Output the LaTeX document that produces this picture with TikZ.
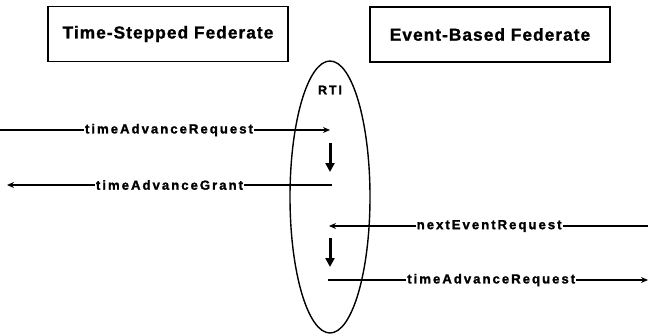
\documentclass[tikz,border=0pt]{standalone}
\usepackage{fontspec}
\setmainfont{Liberation Sans}
\newfontfamily\titlefont[LetterSpace=6,FakeBold=1.2]{Liberation Sans}
\newfontfamily\msgfont[LetterSpace=15,FakeBold=1.4]{Liberation Sans}
\usetikzlibrary{shapes.geometric,arrows.meta}
\tikzset{
  fedbox/.style={draw, line width=1.8pt, minimum width=240pt, minimum height=55pt,
    inner sep=0pt, font=\titlefont\bfseries\fontsize{17.3}{17.3}\selectfont},
  rtishape/.style={draw, ellipse, line width=1.4pt, minimum width=80pt,
    minimum height=272pt, inner sep=0pt},
  msg/.style={line width=1.6pt, -{Stealth[length=7pt,width=6pt]}},
  msgheavy/.style={line width=2.2pt, -{Stealth[length=7pt,width=6pt]}},
  msglabel/.style={fill=white, inner xsep=1pt, inner ysep=1pt,
    font=\msgfont\bfseries\fontsize{13.2}{13.2}\selectfont},
  stepdown/.style={line width=3pt, -{Triangle[length=9pt,width=9pt]}}
}
\begin{document}
\begin{tikzpicture}[x=1pt, y=-1pt]
  \useasboundingbox (0,0) rectangle (648,335);

  % the two federates
  \node[fedbox] (tsf) at (168,34) {Time-Stepped Federate};
  \node[fedbox] (ebf) at (490,34.5) {Event-Based Federate};

  % the run-time infrastructure
  \node[rtishape] (rti) at (330,197) {};
  \node[font=\msgfont\bfseries\fontsize{12.5}{12.5}\selectfont] (rtilabel) at (330,90) {RTI};

  % end points of the message lines
  \coordinate (tarL) at (0,130);
  \coordinate (tarR) at (330,130);
  \coordinate (tagR) at (332,185);
  \coordinate (tagL) at (7,185);
  \coordinate (nerR) at (648,226);
  \coordinate (nerL) at (329,226);
  \coordinate (tar2L) at (328,280);
  \coordinate (tar2R) at (648,280);

  % time-stepped federate exchange
  \draw[msg] (tarL) -- node[msglabel, pos=0.512] (lbl1) {timeAdvanceRequest} (tarR);
  \draw[msgheavy] (tagR) -- node[msglabel, pos=0.5] (lbl2) {timeAdvanceGrant} (tagL);

  % event-based federate exchange
  \draw[msgheavy] (nerR) -- node[msglabel, pos=0.498] (lbl3) {nextEventRequest} (nerL);
  \draw[msg] (tar2L) -- node[msglabel, pos=0.51] (lbl4) {timeAdvanceRequest} (tar2R);

  % processing steps inside the RTI
  \coordinate (s1a) at (330,143);
  \coordinate (s1b) at (330,172);
  \coordinate (s2a) at (330,238);
  \coordinate (s2b) at (330,267);
  \draw[stepdown] (s1a) -- (s1b);
  \draw[stepdown] (s2a) -- (s2b);
\end{tikzpicture}
\end{document}
